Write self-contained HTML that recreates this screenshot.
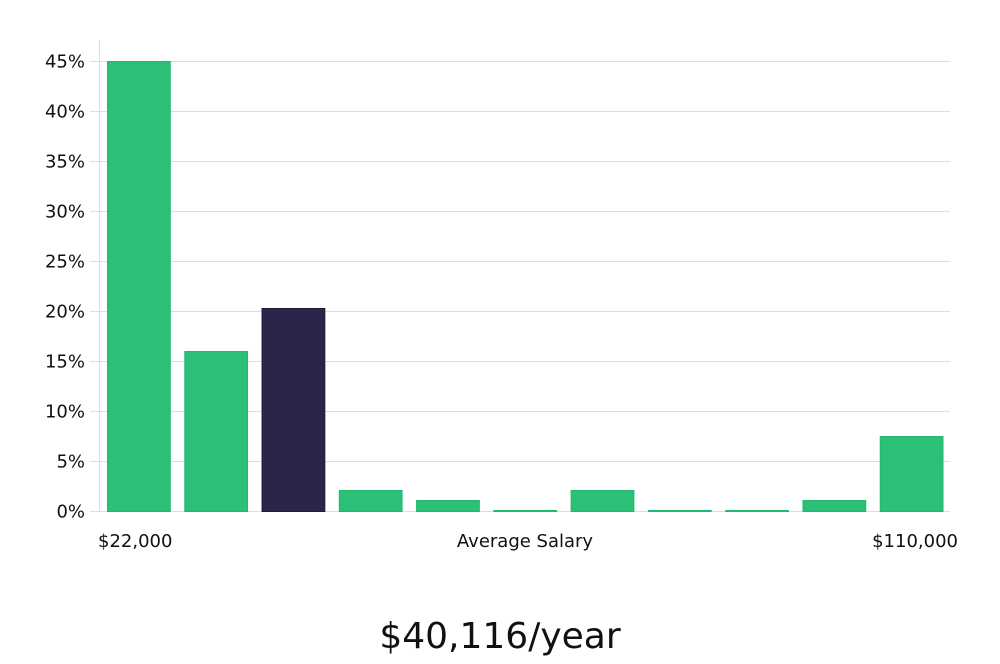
<!DOCTYPE html>
<html><head><meta charset="utf-8"><style>
body{margin:0;background:#fff;width:1000px;height:660px;overflow:hidden;font-family:"DejaVu Sans","Liberation Sans",sans-serif}
svg text{font-family:"DejaVu Sans","Liberation Sans",sans-serif}
</style></head><body>
<svg width="1000" height="660">
<g id="grid"></g>
<g id="bars"></g>
<line x1="99.5" y1="40" x2="99.5" y2="512" stroke="#ddd"/>
<text x="98" y="547" font-size="18" fill="#111">$22,000</text>
<text x="525" y="547" font-size="18" fill="#111" text-anchor="middle">Average Salary</text>
<text x="958" y="547" font-size="18" fill="#111" text-anchor="end">$110,000</text>
<text x="500" y="648" font-size="36" fill="#111" text-anchor="middle" font-family="Liberation Sans, sans-serif">$40,116/year</text>
</svg>
<script>
const values=[45,16,20.3,2.1,1.1,0.1,2.1,0.1,0.1,1.1,7.5];
const highlight=[false,false,true,false,false,false,false,false,false,false,false];
const ticks=[0,5,10,15,20,25,30,35,40,45];
const tickLabels=["0%","5%","10%","15%","20%","25%","30%","35%","40%","45%"];
const NS="http://www.w3.org/2000/svg";
const y=v=>511.5-v*10;
const slot=850/values.length;
const x=i=>100+i*slot;
const g=document.getElementById('grid'),b=document.getElementById('bars');
ticks.forEach((t,i)=>{
 const l=document.createElementNS(NS,'line');
 l.setAttribute('x1',90);l.setAttribute('x2',950);l.setAttribute('y1',y(t));l.setAttribute('y2',y(t));
 l.setAttribute('stroke','#ddd');
 
 
 g.appendChild(l);
 const tx=document.createElementNS(NS,'text');
 tx.setAttribute('x',85);tx.setAttribute('y',y(t)+6);tx.setAttribute('text-anchor','end');
 tx.setAttribute('font-size','18');tx.setAttribute('fill','#111');
 tx.textContent=tickLabels[i];
 
 
 g.appendChild(tx);
});
values.forEach((v,i)=>{
 const r=document.createElementNS(NS,'rect');
 r.setAttribute('x',x(i)+7.5);r.setAttribute('width',slot-14.5);
 r.setAttribute('y',y(v));r.setAttribute('height',Math.max(1,v*10));
 r.setAttribute('fill',highlight[i]?'#2a2649':'#2bbf78');
 r.setAttribute('stroke',highlight[i]?'#1d1a3a':'#22b86e');
 
 
 b.appendChild(r);
});
</script>
</body></html>
